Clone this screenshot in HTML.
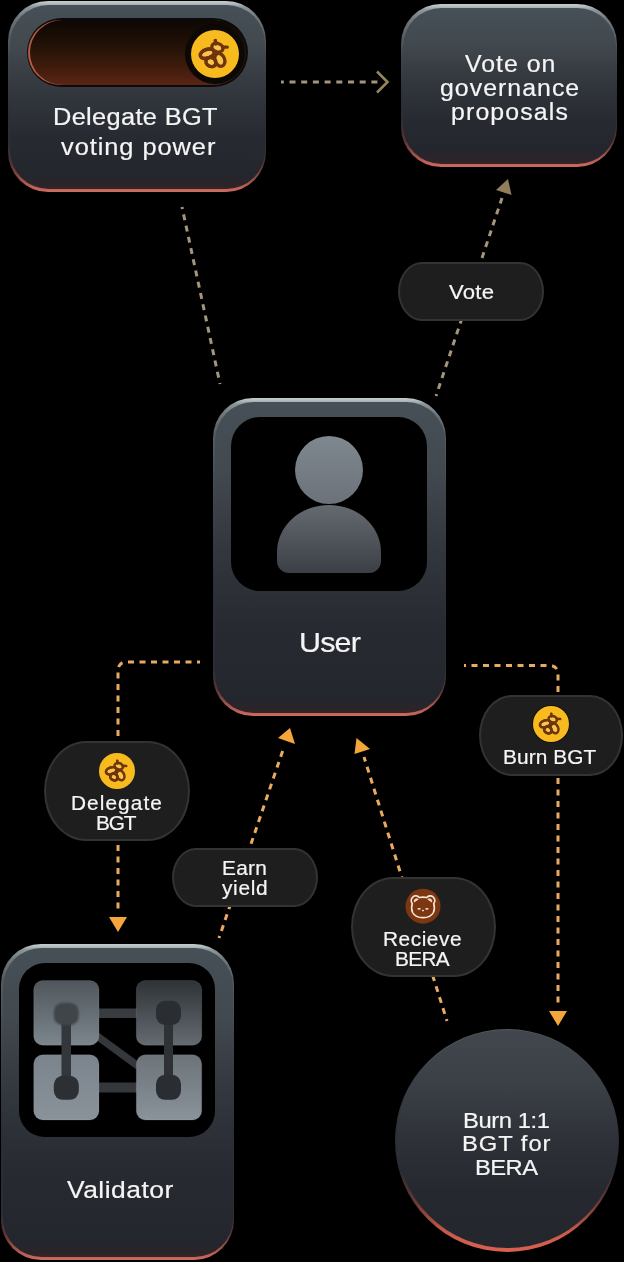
<!DOCTYPE html>
<html><head><meta charset="utf-8">
<style>
html,body{margin:0;padding:0;background:#000;width:624px;height:1262px;overflow:hidden;}
body{position:relative;font-family:"Liberation Sans",sans-serif;color:#f4f4f4;}
.abs{position:absolute;}
.card{position:absolute;border-radius:40px;
 background:linear-gradient(180deg,#c4cccc 0px,#b4bdbe 2.5px,#8d979a 6px,#6f777c 16px,#565e63 34px,#40464c 30%,#2b2e34 60%,#2a2d33 calc(100% - 48px),#5a3335 calc(100% - 26px),#b05a50 calc(100% - 8px),#cc6c5e 100%);}
.card>.fill{position:absolute;left:1.5px;right:1.5px;top:3.5px;bottom:3.5px;border-radius:38.5px;
 background:linear-gradient(180deg,#465056 0%,#42494f 22%,#32363d 48%,#272a31 72%,#23262d calc(100% - 14px),#2c2429 calc(100% - 3px),#3a2427 100%);}
.pill{position:absolute;background:#1e1e1f;border:2px solid #333334;box-sizing:border-box;}
.t{position:absolute;white-space:nowrap;line-height:1;color:#f5f5f5;-webkit-text-stroke:0.2px #f5f5f5;transform:scaleX(1.08);transform-origin:0 0;}
svg{position:absolute;left:0;top:0;overflow:visible;}
</style></head><body>

<svg width="0" height="0" style="position:absolute">
 <defs>
  <g id="bee">
   <g fill="#f7c44e" stroke="#6f3409" stroke-width="2.5">
    <ellipse cx="12.2" cy="17.8" rx="5.4" ry="3.3" transform="rotate(-18 12.2 17.8)"/>
    <ellipse cx="15" cy="24" rx="3.9" ry="3.3" transform="rotate(25 15 24)"/>
    <ellipse cx="21.6" cy="22.4" rx="3.6" ry="5" transform="rotate(-22 21.6 22.4)"/>
    <ellipse cx="19.8" cy="13.2" rx="4.3" ry="3.1" transform="rotate(20 19.8 13.2)"/>
   </g>
   <g fill="none" stroke="#6f3409" stroke-width="2.5" stroke-linecap="round">
    <ellipse cx="12.2" cy="17.8" rx="5.4" ry="3.3" transform="rotate(-18 12.2 17.8)"/>
    <ellipse cx="15" cy="24" rx="3.9" ry="3.3" transform="rotate(25 15 24)"/>
    <path d="M18.3 8 L18.6 10.5"/>
    <path d="M23.6 12.8 L27.2 12.9"/>
   </g>
   <circle cx="18.2" cy="7.8" r="1.2" fill="#6f3409"/>
  </g>
 </defs>
</svg>

<!-- connector lines -->
<svg width="624" height="1262" viewBox="0 0 624 1262">
 <g fill="none" stroke-width="3" stroke-dasharray="6 5.5">
  <path d="M281 82 H378" stroke="#a3967c" stroke-dashoffset="3.2" stroke-dasharray="6 5.7"/>
  <path d="M182 207 L220 384" stroke-dashoffset="4" stroke="#a3967c"/>
  <path d="M436 396 L502 198" stroke-dashoffset="4" stroke="#a3967c"/>
  <path d="M200 662 H127 Q118 662 118 671 V912" stroke-dashoffset="3" stroke="#e9aa62" stroke-width="3"/>
  <path d="M219 938 L284 747" stroke-dashoffset="4" stroke="#e9aa62" stroke-width="3"/>
  <path d="M447 1021 L364 757" stroke-dashoffset="4" stroke="#e9aa62" stroke-width="3"/>
  <path d="M464 665.5 H549 Q558 665.5 558 674.5 V1006" stroke-dashoffset="4" stroke="#e9aa62" stroke-width="3"/>
 </g>
 <path d="M377 71.5 L387.5 82 L377 92.5" fill="none" stroke="#97845f" stroke-width="2.6"/>
 <path d="M508 179 L496 190 L511.5 195 Z" fill="#927e5c"/>
 <path d="M109 917 H127 L118 932 Z" fill="#f4a53c"/>
 <path d="M549 1011 H567 L558 1026 Z" fill="#f4a53c"/>
 <path d="M290 728 L278 738 L295 744 Z" fill="#f4a53c"/>
 <path d="M356.5 738 L354.5 754 L370 749 Z" fill="#f4a53c"/>
</svg>

<!-- Card 1: Delegate BGT voting power -->
<div class="card" style="left:8px;top:1px;width:258px;height:191px;"><div class="fill"></div></div>
<div class="abs" style="left:26.5px;top:17.5px;width:221px;height:69px;border-radius:35px;background:#0b0b0c;"></div>
<div class="abs" style="left:28px;top:19.5px;width:218px;height:65.5px;border-radius:33px;background:linear-gradient(180deg,#0e0704 0%,#1f1007 35%,#3d1b0c 70%,#5a2514 100%);box-shadow:inset 2px 0 0.5px 0 rgba(205,100,78,0.85);"></div>
<div class="abs" style="left:185px;top:23.5px;width:60px;height:60px;border-radius:50%;background:#0b0806;"></div>
<svg class="abs" style="left:191px;top:29.5px" width="48" height="48" viewBox="0 0 36 36"><circle cx="18" cy="18" r="18" fill="#f8bb1f"/><use href="#bee"/></svg>

<!-- Card 2: Vote on governance proposals -->
<div class="card" style="left:401px;top:4px;width:216px;height:163px;"><div class="fill"></div></div>

<!-- Vote pill -->
<div class="pill" style="left:398px;top:262px;width:146px;height:59px;border-radius:24px / 29.5px;"></div>

<!-- User card -->
<div class="card" style="left:213px;top:398px;width:233px;height:318px;"><div class="fill"></div></div>
<div class="abs" style="left:231px;top:417px;width:196px;height:174px;border-radius:29px;background:#000;"></div>
<div class="abs" style="left:295px;top:436px;width:68px;height:68px;border-radius:50%;background:linear-gradient(180deg,#80888f,#6b7279);"></div>
<div class="abs" style="left:277px;top:505px;width:104px;height:68px;border-radius:52px 52px 12px 12px / 47px 47px 12px 12px;background:linear-gradient(180deg,#646a70,#3c4046);"></div>

<!-- Delegate BGT pill -->
<div class="pill" style="left:44px;top:741px;width:146px;height:100px;border-radius:42px / 50px;"></div>
<svg class="abs" style="left:99px;top:753px" width="36" height="36" viewBox="0 0 36 36"><circle cx="18" cy="18" r="18" fill="#f8bb1f"/><use href="#bee"/></svg>

<!-- Earn yield pill -->
<div class="pill" style="left:172px;top:848px;width:146px;height:59px;border-radius:24px / 29.5px;"></div>

<!-- Burn BGT pill -->
<div class="pill" style="left:478.5px;top:694.5px;width:144px;height:81px;border-radius:33px / 40.5px;"></div>
<svg class="abs" style="left:533px;top:706px" width="36" height="36" viewBox="0 0 36 36"><circle cx="18" cy="18" r="19" fill="#170f06"/><circle cx="18" cy="18" r="18" fill="#f8bb1f"/><use href="#bee"/></svg>

<!-- Recieve BERA pill -->
<div class="pill" style="left:351px;top:877px;width:145px;height:100px;border-radius:42px / 50px;"></div>
<svg class="abs" style="left:403px;top:886px" width="40" height="40" viewBox="0 0 40 40">
 <circle cx="20" cy="20.2" r="17.5" fill="#7c3712"/>
 <path d="M9.3 17.6 A4.3 4.3 0 1 1 16.3 11.5 Q20 10.7 23.7 11.5 A4.3 4.3 0 1 1 30.7 17.6 C31.6 20.5 31.8 23.5 30.4 26.5 C28.4 30.3 24.6 31.6 20 31.6 C15.4 31.6 11.6 30.3 9.6 26.5 C8.2 23.5 8.4 20.5 9.3 17.6 Z" fill="none" stroke="#f8e7d4" stroke-width="1.6"/>
 <path d="M11.3 16.6 A2.6 2.6 0 0 1 15.6 13.6 Z" fill="#f6e4cf" opacity="0.9"/>
 <path d="M28.7 16.6 A2.6 2.6 0 0 0 24.4 13.6 Z" fill="#f6e4cf" opacity="0.9"/>
 <ellipse cx="16.1" cy="22.8" rx="1.7" ry="0.9" fill="#f6e4cf"/>
 <ellipse cx="23.9" cy="22.8" rx="1.7" ry="0.9" fill="#f6e4cf"/>
 <ellipse cx="20" cy="24.6" rx="1.1" ry="0.8" fill="#f6e4cf"/>
</svg>

<!-- Validator card -->
<div class="card" style="left:1px;top:944px;width:233px;height:316px;"><div class="fill"></div></div>
<div class="abs" style="left:19px;top:963px;width:196px;height:174px;border-radius:26px;background:#000;"></div>
<svg class="abs" style="left:0;top:0" width="624" height="1262" viewBox="0 0 624 1262">
 <defs>
  <filter id="blur1" x="-50%" y="-50%" width="200%" height="200%"><feGaussianBlur stdDeviation="1.1"/></filter>
  <linearGradient id="gTL" x1="0" y1="0" x2="0" y2="1"><stop offset="0" stop-color="#50565c"/><stop offset="1" stop-color="#7c868d"/></linearGradient>
  <linearGradient id="gTR" x1="0" y1="0" x2="0" y2="1"><stop offset="0" stop-color="#2f3337"/><stop offset="1" stop-color="#646b71"/></linearGradient>
  <linearGradient id="gBL" x1="0" y1="0" x2="0" y2="1"><stop offset="0" stop-color="#7b848c"/><stop offset="1" stop-color="#8a939a"/></linearGradient>
  <linearGradient id="gBR" x1="0" y1="0" x2="0" y2="1"><stop offset="0" stop-color="#6c7379"/><stop offset="1" stop-color="#8a939a"/></linearGradient>
 </defs>
 <rect x="96" y="1008.5" width="43" height="9.5" fill="#383c41"/>
 <rect x="96" y="1082.5" width="43" height="10" fill="#34373c"/>
 <path d="M97 1036 L138 1066" stroke="#34373c" stroke-width="7.5"/>
 <rect x="33.7" y="980.6" width="65.3" height="64.6" rx="9" fill="url(#gTL)" stroke="rgba(200,210,215,0.13)" stroke-width="1"/>
 <rect x="136.3" y="980.6" width="65.4" height="64.6" rx="9" fill="url(#gTR)" stroke="rgba(200,210,215,0.13)" stroke-width="1"/>
 <rect x="33.7" y="1054.8" width="65.3" height="65.2" rx="9" fill="url(#gBL)" stroke="rgba(200,210,215,0.13)" stroke-width="1"/>
 <rect x="136.3" y="1054.8" width="65.4" height="65.2" rx="9" fill="url(#gBR)" stroke="rgba(200,210,215,0.13)" stroke-width="1"/>
 <rect x="61.5" y="1012" width="9.5" height="76" fill="#33373c"/>
 <rect x="53.8" y="1002.7" width="25" height="22.5" rx="9" fill="#3f4449" filter="url(#blur1)"/>
 <rect x="53.8" y="1075.8" width="25" height="24" rx="9" fill="#2c3035"/>
 <rect x="164" y="1012" width="9" height="76" fill="#2e3237"/>
 <rect x="156" y="1000.8" width="25" height="24" rx="9" fill="#2a2e33"/>
 <rect x="156" y="1074.8" width="25" height="25" rx="9" fill="#2a2e33"/>
</svg>

<!-- Burn circle -->
<div class="abs" style="left:395px;top:1028.5px;width:224px;height:223px;border-radius:50%;background:linear-gradient(180deg,#52595e 0%,#3d4248 20%,#2d3036 45%,#2a2d33 calc(100% - 80px),#6a3835 calc(100% - 50px),#c85a4a calc(100% - 20px),#d9614f 100%);"><div class="abs" style="left:1.5px;right:1.5px;top:1.5px;bottom:3.5px;border-radius:50%;background:linear-gradient(180deg,#41474c 0%,#3b4046 25%,#2e3238 50%,#25282f 75%,#23262d 100%);"></div></div>

<!-- text -->
<div class="t" style="left:52.92px;top:105.71px;font-size:23.5px;letter-spacing:0.31px">Delegate BGT</div>
<div class="t" style="left:61.00px;top:135.81px;font-size:23.5px;letter-spacing:0.88px">voting power</div>
<div class="t" style="left:464.60px;top:52.83px;font-size:23px;letter-spacing:0.93px">Vote on</div>
<div class="t" style="left:439.75px;top:76.83px;font-size:23px;letter-spacing:0.96px">governance</div>
<div class="t" style="left:450.72px;top:100.53px;font-size:23px;letter-spacing:1.06px">proposals</div>
<div class="t" style="left:448.80px;top:282.45px;font-size:20.5px;letter-spacing:0.22px">Vote</div>
<div class="t" style="left:298.94px;top:628.43px;font-size:28.2px;letter-spacing:-0.77px">User</div>
<div class="t" style="left:71.12px;top:794.06px;font-size:19.3px;letter-spacing:0.99px">Delegate</div>
<div class="t" style="left:96.42px;top:814.16px;font-size:19.3px;letter-spacing:-1.10px">BGT</div>
<div class="t" style="left:222.17px;top:859.06px;font-size:19.3px;letter-spacing:0.24px">Earn</div>
<div class="t" style="left:222.30px;top:878.76px;font-size:19.3px;letter-spacing:0.66px">yield</div>
<div class="t" style="left:503.42px;top:747.96px;font-size:19.3px;letter-spacing:0.10px">Burn BGT</div>
<div class="t" style="left:383.32px;top:930.06px;font-size:19.3px;letter-spacing:0.50px">Recieve</div>
<div class="t" style="left:394.92px;top:949.86px;font-size:19.3px;letter-spacing:-0.64px">BERA</div>
<div class="t" style="left:66.50px;top:1177.86px;font-size:24.5px;letter-spacing:0.45px">Validator</div>
<div class="t" style="left:462.67px;top:1109.68px;font-size:22px;letter-spacing:-0.39px">Burn 1:1</div>
<div class="t" style="left:462.37px;top:1133.28px;font-size:22px;letter-spacing:0.89px">BGT for</div>
<div class="t" style="left:474.97px;top:1156.88px;font-size:22px;letter-spacing:-0.52px">BERA</div>
</body></html>
